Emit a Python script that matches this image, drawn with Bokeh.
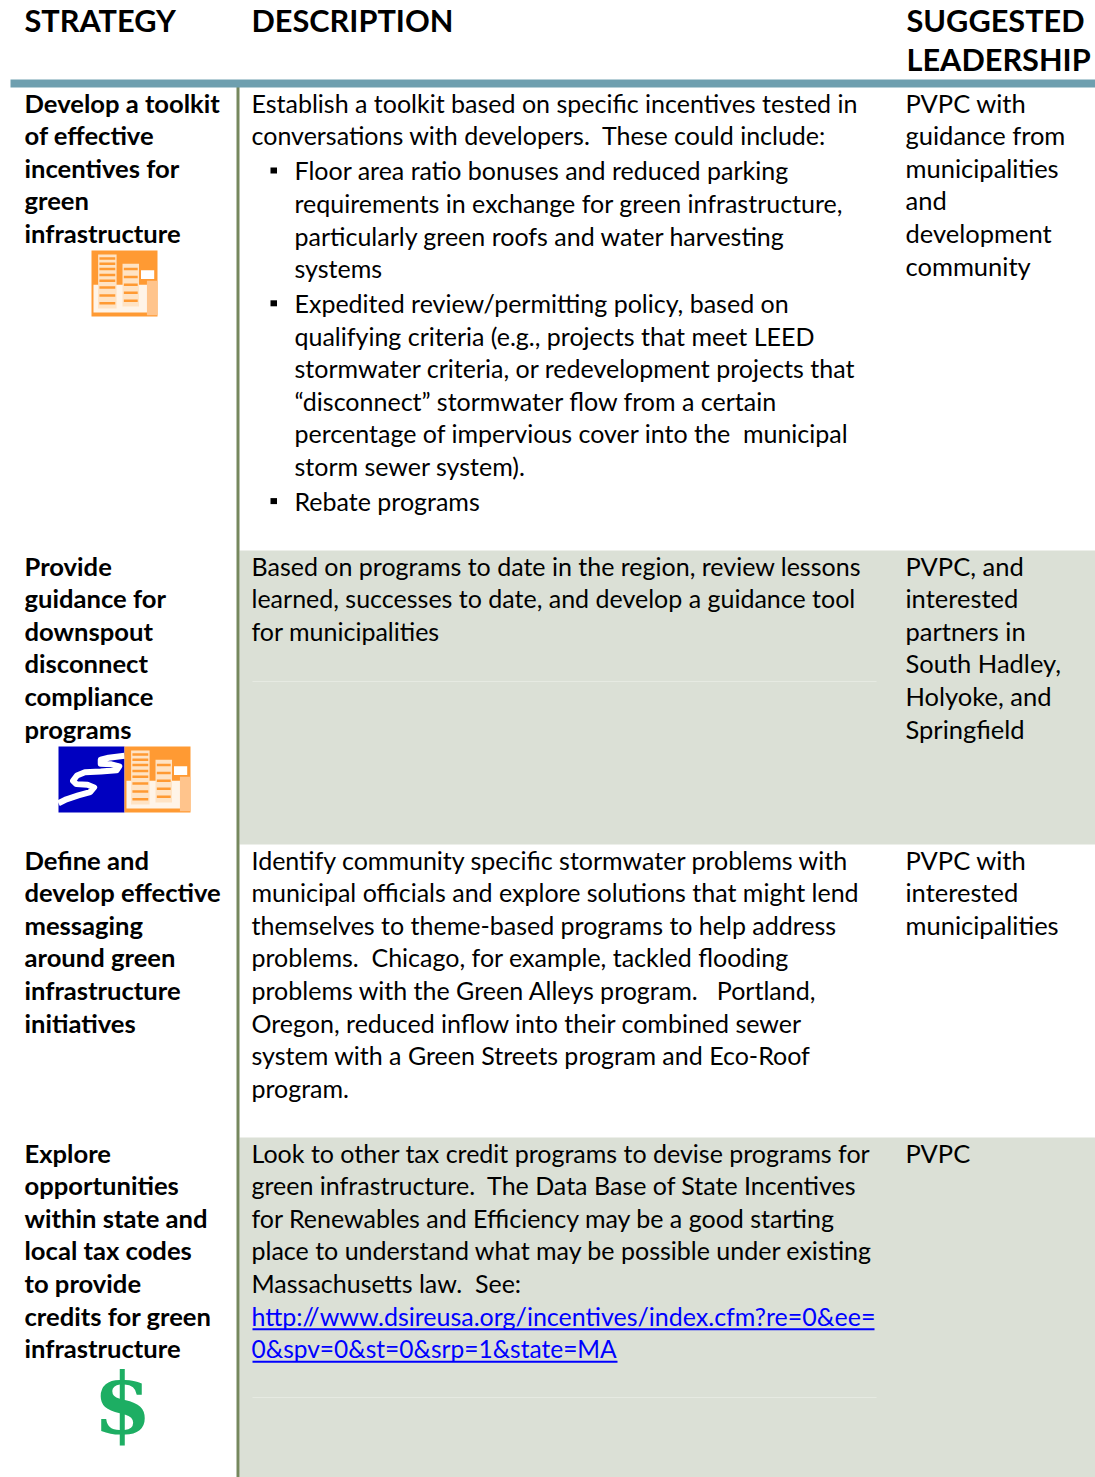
from bokeh.plotting import figure
from bokeh.models import Range1d
from bokeh.core.properties import value
from bokeh.embed import file_html
from bokeh.resources import INLINE

FONT = "Lato"
headers = [["STRATEGY"], ["DESCRIPTION"], ["SUGGESTED", "LEADERSHIP"]]

strategy = [
    ["Develop a toolkit", "of effective", "incentives for", "green", "infrastructure"],
    ["Provide", "guidance for", "downspout", "disconnect", "compliance", "programs"],
    ["Define and", "develop effective", "messaging", "around green", "infrastructure", "initiatives"],
    ["Explore", "opportunities", "within state and", "local tax codes", "to provide", "credits for green", "infrastructure"],
]
# paragraphs per row: (is_bullet, lines)
description = [
    [(False, ["Establish a toolkit based on specific incentives tested in", "conversations with developers.\u00a0 These could include:"]),
     (True, ["Floor area ratio bonuses and reduced parking", "requirements in exchange for green infrastructure,", "particularly green roofs and water harvesting", "systems"]),
     (True, ["Expedited review/permitting policy, based on", "qualifying criteria (e.g., projects that meet LEED", "stormwater criteria, or redevelopment projects that", "\u201cdisconnect\u201d stormwater flow from a certain", "percentage of impervious cover into the\u00a0 municipal", "storm sewer system)."]),
     (True, ["Rebate programs"])],
    [(False, ["Based on programs to date in the region, review lessons", "learned, successes to date, and develop a guidance tool", "for municipalities"])],
    [(False, ["Identify community specific stormwater problems with", "municipal officials and explore solutions that might lend", "themselves to theme-based programs to help address", "problems.\u00a0 Chicago, for example, tackled flooding", "problems with the Green Alleys program.\u00a0\u00a0 Portland,", "Oregon, reduced inflow into their combined sewer", "system with a Green Streets program and Eco-Roof", "program."])],
    [(False, ["Look to other tax credit programs to devise programs for", "green infrastructure.\u00a0 The Data Base of State Incentives", "for Renewables and Efficiency may be a good starting", "place to understand what may be possible under existing", "Massachusetts law.\u00a0 See:"])],
]
link_lines = ["http://www.dsireusa.org/incentives/index.cfm?re=0&ee=", "0&spv=0&st=0&srp=1&state=MA"]
link_sizes = ["25px", "24.5px"]
leadership = [
    ["PVPC with", "guidance from", "municipalities", "and", "development", "community"],
    ["PVPC, and", "interested", "partners in", "South Hadley,", "Holyoke, and", "Springfield"],
    ["PVPC with", "interested", "municipalities"],
    ["PVPC"],
]

ROW_BASE = [112, 575, 869, 1162]
LH = 32.55
TEXT_SHIFT = -9.7   # alphabetic text sits this far low in the SVG output
SZ_BOLD = "25.6px"
SZ_DESC = "25px"
SZ_LEAD = "25.5px"

p = figure(width=1095, height=1477, x_range=Range1d(0, 1095), y_range=Range1d(1477, 0),
           output_backend="svg", toolbar_location=None, min_border=0, outline_line_color=None,
           x_axis_type=None, y_axis_type=None, background_fill_color="white")
p.grid.visible = False

BAND = "#DBE0D6"
p.quad(left=[239, 239], right=[1095, 1095], top=[550, 1137], bottom=[844, 1477], color=BAND, line_color=None)
p.segment(x0=[252, 252], x1=[876, 876], y0=[681, 1397], y1=[681, 1397], line_color="#E6EAE2", line_width=1)
p.quad(left=[236], right=[239], top=[86], bottom=[1477], color="#76885E", line_color=None)
p.quad(left=[10], right=[1095], top=[79], bottom=[87], color="#6E9FAF", line_color=None)


def put(xs, ys, ts, size, bold=False, color="black"):
    p.text(x=[v - 1 for v in xs], y=[v + TEXT_SHIFT for v in ys], text=ts, text_font=value(FONT), text_font_size=size,
           text_font_style="bold" if bold else "normal", text_color=color,
           text_baseline="alphabetic", text_align="left")


# header
for x, lines in zip([25, 252, 907], headers):
    put([x] * len(lines), [30 + i * 39 for i in range(len(lines))], lines, "30.7px", bold=True)

for base, s, d, l in zip(ROW_BASE, strategy, description, leadership):
    put([25] * len(s), [base + i * LH for i in range(len(s))], s, SZ_BOLD, bold=True)
    put([906] * len(l), [base + i * LH for i in range(len(l))], l, SZ_LEAD)
    y = base
    for para_i, (bullet, lines) in enumerate(d):
        if para_i:
            y += 2.5
        x = 295 if bullet else 252
        ys = [y + i * LH for i in range(len(lines))]
        put([x] * len(lines), ys, lines, SZ_DESC)
        if bullet:
            p.quad(left=[270], right=[276.5], top=[ys[0] - 12.5], bottom=[ys[0] - 6.5], color="black", line_color=None)
        y = ys[-1] + LH

# link
link_base = ROW_BASE[3] + 5 * LH
ys = [link_base + i * LH for i in range(len(link_lines))]
for yy, line, sz in zip(ys, link_lines, link_sizes):
    put([252], [yy], [line], sz, color="#0000FF")
p.segment(x0=[252, 252], x1=[874, 617], y0=[v + 4 for v in ys], y1=[v + 4 for v in ys], line_color="#0000FF", line_width=2)

# icons (fractions of the icon box)
ORANGE = "#FF9A33"
PALE = "#FFE3C4"
LIGHT = "#FFC48C"
b_l = [0.03, 0.10, 0.47, 0.75, 0.84]
b_r = [0.85, 0.38, 0.72, 0.95, 1.00]
b_t = [0.52, 0.06, 0.20, 0.30, 0.46]
b_b = [0.94, 0.88, 0.85, 0.43, 0.98]
b_c = ["#FFF4E8", PALE, PALE, "#FFFFFF", LIGHT]
stripe_y = [0.12, 0.20, 0.28, 0.37, 0.46, 0.56, 0.68, 0.80, 0.28, 0.40, 0.52, 0.64, 0.76]
stripe_l = [0.12] * 8 + [0.49] * 5
stripe_r = [0.36] * 8 + [0.70] * 5
swoosh_x = [0.0, 0.12, 0.30, 0.48, 0.54, 0.44, 0.27, 0.22, 0.28, 0.40, 0.64, 0.88, 0.92, 0.80, 0.64, 0.64, 0.76, 1.0]
swoosh_y = [0.86, 0.80, 0.74, 0.69, 0.62, 0.58, 0.57, 0.52, 0.44, 0.39, 0.38, 0.36, 0.30, 0.27, 0.26, 0.20, 0.17, 0.14]


def building(x0, y0, s):
    p.quad(left=[x0], right=[x0 + s], top=[y0], bottom=[y0 + s], color=ORANGE, line_color=None)
    p.quad(left=[x0 + a * s for a in b_l], right=[x0 + a * s for a in b_r],
           top=[y0 + a * s for a in b_t], bottom=[y0 + a * s for a in b_b], color=b_c, line_color=None)
    p.segment(x0=[x0 + a * s for a in stripe_l], x1=[x0 + a * s for a in stripe_r],
              y0=[y0 + a * s for a in stripe_y], y1=[y0 + a * s for a in stripe_y],
              line_color=ORANGE, line_width=2.5)


def swoosh(x0, y0, s):
    p.quad(left=[x0], right=[x0 + s], top=[y0], bottom=[y0 + s], color="#0000C0", line_color=None)
    p.line(x=[x0 + a * s for a in swoosh_x], y=[y0 + a * s for a in swoosh_y],
           line_color="white", line_width=6, line_join="round")


building(91, 250, 66)
swoosh(58, 746, 66)
building(124, 746, 66)
p.text(x=[122], y=[1403], text=["$"], text_font=value("DejaVu Serif"), text_font_size="84px",
       text_font_style="bold", text_color="#1DAE63", text_baseline="middle", text_align="center")

open("out.html", "w").write(file_html(p, INLINE))
